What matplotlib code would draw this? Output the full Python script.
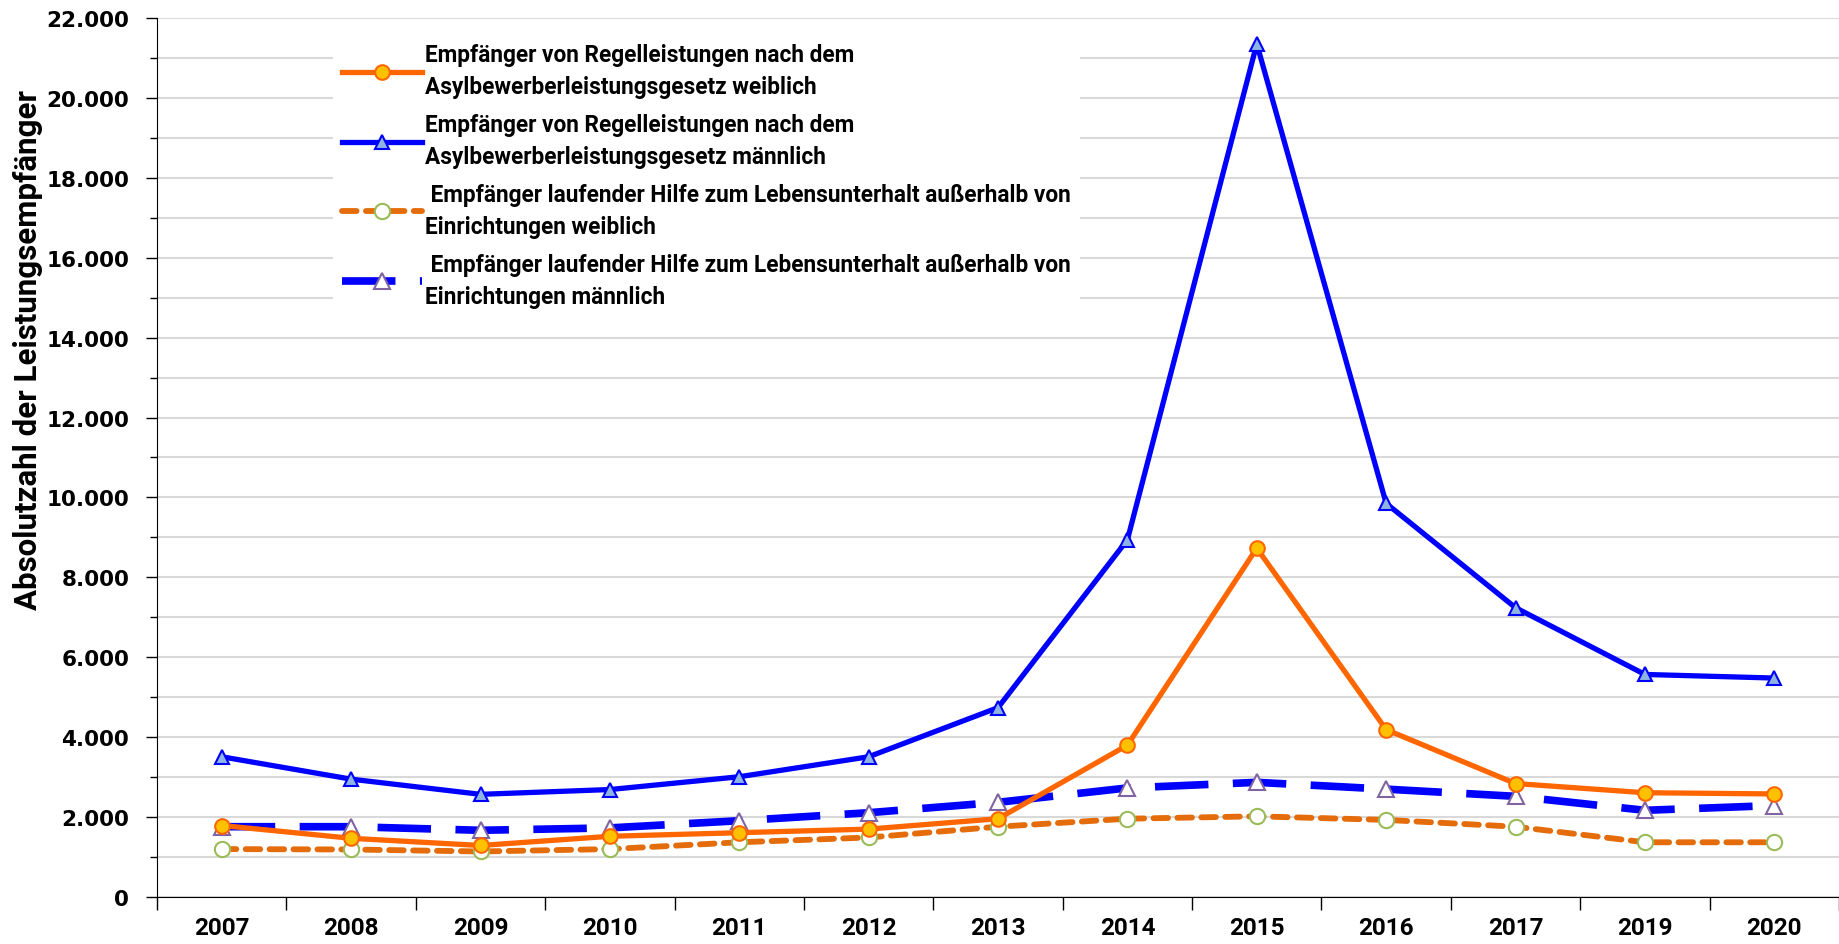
import numpy as np
import matplotlib
matplotlib.use("Agg")
import matplotlib.pyplot as plt
from matplotlib.ticker import MultipleLocator, FuncFormatter

# Daten
jahre = ["2007", "2008", "2009", "2010", "2011", "2012", "2013",
         "2014", "2015", "2016", "2017", "2019", "2020"]
asyl_weiblich = [1790, 1470, 1290, 1520, 1610, 1700, 1960,
                 3800, 8730, 4190, 2840, 2610, 2580]
asyl_maennlich = [3510, 2950, 2570, 2690, 3010, 3510, 4740,
                  8940, 21350, 9850, 7240, 5570, 5480]
hilfe_weiblich = [1200, 1190, 1140, 1200, 1370, 1490, 1760,
                  1960, 2020, 1930, 1760, 1370, 1370]
hilfe_maennlich = [1760, 1760, 1670, 1730, 1910, 2110, 2370,
                   2730, 2870, 2700, 2520, 2170, 2290]

labels = [
    "Empfänger von Regelleistungen nach dem\nAsylbewerberleistungsgesetz weiblich",
    "Empfänger von Regelleistungen nach dem\nAsylbewerberleistungsgesetz männlich",
    " Empfänger laufender Hilfe zum Lebensunterhalt außerhalb von\nEinrichtungen weiblich",
    " Empfänger laufender Hilfe zum Lebensunterhalt außerhalb von\nEinrichtungen männlich",
]

narrow = ["Roboto", "DejaVu Sans"]

fig = plt.figure(figsize=(18.39, 9.45), dpi=100)
ax = fig.add_axes([0.0854, 0.0497, 0.9146, 0.9303])
x = np.arange(len(jahre))

ax.plot(x, asyl_weiblich, color="#FF6600", lw=3.8, marker="o", ms=10.5,
        mfc="#FFC000", mec="#FF6600", mew=1.5, label=labels[0], zorder=4)
ax.plot(x, asyl_maennlich, color="#0000FF", lw=3.8, marker="^", ms=10.5,
        mfc="#8EB4E3", mec="#0000FF", mew=1.5, label=labels[1], zorder=4)
ax.plot(x, hilfe_weiblich, color="#E46C0A", lw=4.2, dashes=(2.5, 1.6),
        dash_capstyle="round", marker="o", ms=11, mfc="white",
        mec="#9BBB59", mew=1.5, label=labels[2], zorder=3)
ax.plot(x, hilfe_maennlich, color="#0000FF", lw=5.5, dashes=(7, 3.2),
        marker="^", ms=12, mfc="white", mec="#8064A2", mew=1.5,
        label=labels[3], zorder=3)

# Achsen
ax.set_xlim(-0.5, len(jahre) - 0.5)
ax.set_ylim(0, 22000)
ax.set_xticks(x)
ax.set_xticklabels(jahre, fontsize=17.5, fontweight="bold", family=narrow)
ax.set_xticks(np.arange(-0.5, len(jahre)), minor=True)
ax.tick_params(axis="x", which="major", length=0, pad=14)
ax.tick_params(axis="x", which="minor", length=9, width=1, direction="out")

ax.yaxis.set_major_locator(MultipleLocator(2000))
ax.yaxis.set_minor_locator(MultipleLocator(1000))
ax.yaxis.set_major_formatter(
    FuncFormatter(lambda v, p: "{:,.0f}".format(v).replace(",", ".")))
ax.tick_params(axis="y", which="major", length=8, width=1, pad=12, labelsize=15.5)
ax.tick_params(axis="y", which="minor", length=5, width=1)
for t in ax.get_yticklabels():
    t.set_fontweight("bold")

ax.grid(True, axis="y", which="both", color="#D9D9D9", lw=1.5, zorder=0)
ax.set_axisbelow(True)
for s in ["top", "right"]:
    ax.spines[s].set_visible(False)

fig.text(0.015, 0.63, "Absolutzahl der Leistungsempfänger", rotation=90,
         ha="center", va="center", fontsize=22.5, fontweight="bold", family=narrow)

leg = ax.legend(loc="upper left", bbox_to_anchor=(322 / 1839, 1 - 24 / 945),
                bbox_transform=fig.transFigure, frameon=True, framealpha=1,
                facecolor="white", edgecolor="none", fancybox=False,
                handlelength=3.5, handletextpad=0.15, labelspacing=0.65,
                prop={"family": narrow, "weight": "bold", "size": 16.3},
                borderpad=0.4)
for t in leg.get_texts():
    t.set_linespacing(1.5)
leg.set_zorder(5)

fig.savefig("out.png", dpi=100)
